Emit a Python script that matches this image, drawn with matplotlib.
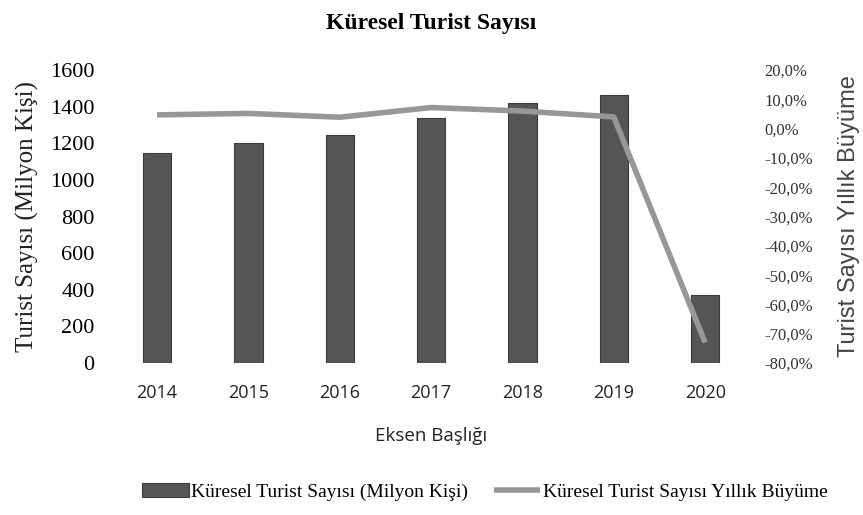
import numpy as np
import matplotlib
matplotlib.use("Agg")
import matplotlib.pyplot as plt
from matplotlib.ticker import FuncFormatter

years = ["2014", "2015", "2016", "2017", "2018", "2019", "2020"]
tourists = [1145, 1203, 1245, 1336, 1418, 1463, 372]       # milyon kişi
growth = [4.7, 5.2, 3.9, 7.2, 6.0, 4.0, -73.0]               # yüzde

serif = "Liberation Serif"
sans = "Open Sans"

fig = plt.figure(figsize=(8.63, 5.15), dpi=100)
ax = fig.add_axes([0.129, 0.295, 0.741, 0.569])
ax2 = ax.twinx()

x = np.arange(len(years))
bars = ax.bar(x, tourists, width=0.31, color="#555555", edgecolor="#3a3a3a",
              linewidth=0.8, label="Küresel Turist Sayısı (Milyon Kişi)", zorder=2)
line, = ax2.plot(x, growth, color="#979797", linewidth=4, solid_capstyle="butt",
                 label="Küresel Turist Sayısı Yıllık Büyüme", zorder=3)

ax.set_xlim(-0.5, len(years) - 0.5)
ax.set_ylim(0, 1600)
ax.set_yticks(range(0, 1601, 200))
ax2.set_ylim(-80, 20)
ax2.set_yticks(range(-80, 21, 10))
ax2.yaxis.set_major_formatter(FuncFormatter(lambda v, p: f"{v:.1f}%".replace(".", ",")))

ax.set_xticks(x)
ax.set_xticklabels(years, fontfamily=sans, fontsize=13, color="#222222")
for lbl in ax.get_yticklabels():
    lbl.set_fontfamily(serif)
    lbl.set_fontsize(16)
for lbl in ax2.get_yticklabels():
    lbl.set_fontfamily(serif)
    lbl.set_fontsize(12)
    lbl.set_color("#333333")

ax.tick_params(axis="x", length=0, pad=15)
ax.tick_params(axis="y", length=0, pad=12)
ax2.tick_params(axis="y", length=0, pad=10)

for a in (ax, ax2):
    for s in a.spines.values():
        s.set_visible(False)

ax.set_ylabel("Turist Sayısı (Milyon Kişi)", fontfamily=serif, fontsize=18,
              color="#222222", labelpad=8)
ax2.set_ylabel("Turist Sayısı Yıllık Büyüme", fontfamily="Liberation Sans",
               fontsize=17, color="#444444", labelpad=18)
ax.set_xlabel("Eksen Başlığı", fontfamily=sans, fontsize=13.5, color="#222222",
              labelpad=18)

fig.text(0.5, 0.955, "Küresel Turist Sayısı", ha="center", va="center",
         fontfamily=serif, fontweight="bold", fontsize=17)

fig.legend([bars, line], [bars.get_label(), line.get_label()],
           loc="center", bbox_to_anchor=(0.562, 0.045), ncol=2, frameon=False,
           prop={"family": serif, "size": 14}, handlelength=2.4,
           handletextpad=0.15, columnspacing=1.3)

fig.savefig("out.png", dpi=100)
